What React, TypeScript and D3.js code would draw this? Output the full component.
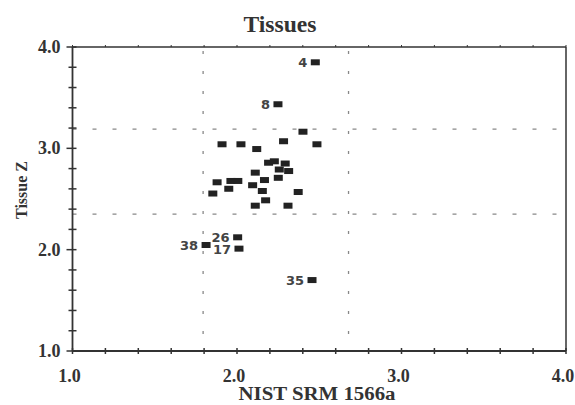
import React from "react";
import * as d3 from "d3";

const xValues = [2.476, 2.249, 2.004, 2.012, 1.812, 2.456,
  2.401, 1.909, 2.024, 2.120, 2.283, 2.486, 2.192, 2.227, 2.293, 2.257, 2.314, 2.111,
  1.879, 1.963, 2.005, 2.167, 2.251, 1.950, 2.095, 2.154, 1.853, 2.372, 2.174, 2.111, 2.310];
const yValues = [3.849, 3.435, 2.122, 2.010, 2.046, 1.700,
  3.164, 3.040, 3.040, 2.993, 3.070, 3.040, 2.858, 2.872, 2.850, 2.791, 2.776, 2.760,
  2.665, 2.678, 2.678, 2.687, 2.709, 2.601, 2.636, 2.579, 2.554, 2.569, 2.487, 2.434, 2.434];
const pointLabels = ["4", "8", "26", "17", "38", "35",
  "", "", "", "", "", "", "", "", "", "", "", "", "", "", "", "", "", "", "", "", "", "", "", "", ""];

const refX = [1.794, 2.678];
const refY = [3.19, 2.351];

const tickValues = d3.range(10, 41, 2).map((v) => v / 10);
const majorTicks = [1, 2, 3, 4];
const tickLabels = ["1.0", "2.0", "3.0", "4.0"];

const titleText = "Tissues";
const xTitle = "NIST SRM 1566a";
const yTitle = "Tissue Z";

export default function App() {
  const W = 575, H = 405;
  const left = 72.5, right = 566, top = 47, bottom = 351;
  const x = d3.scaleLinear().domain([1, 4]).range([left, right]);
  const y = d3.scaleLinear().domain([1, 4]).range([bottom, top]);
  const axisColor = "#333";
  const serif = "'Liberation Serif', 'Times New Roman', serif";
  const isMajor = (v: number) => majorTicks.some((m) => Math.abs(m - v) < 1e-6);

  return (
    <svg width={W} height={H} style={{ position: "absolute", left: 0, top: 0, background: "#fff" }}>
      <rect x={0} y={0} width={W} height={H} fill="#fff" />
      {/* reference dashed lines */}
      {refX.map((v, i) => (
        <line key={"rx" + i} x1={x(v)} x2={x(v)} y1={top + 4} y2={bottom} stroke="#888" strokeWidth={1.3} strokeDasharray="3,17" />
      ))}
      {refY.map((v, i) => (
        <line key={"ry" + i} x1={left} x2={right} y1={y(v)} y2={y(v)} stroke="#888" strokeWidth={1.3} strokeDasharray="4,16" />
      ))}
      {/* frame */}
      <line x1={left} x2={right} y1={top} y2={top} stroke={axisColor} strokeWidth={1.5} />
      <line x1={right} x2={right} y1={top} y2={bottom} stroke={axisColor} strokeWidth={1.5} />
      <line x1={left} x2={left} y1={top} y2={bottom} stroke={axisColor} strokeWidth={1.8} />
      <line x1={left} x2={right} y1={bottom} y2={bottom} stroke={axisColor} strokeWidth={1.8} />
      {/* bottom ticks */}
      {tickValues.map((v, i) => (
        <line key={"bt" + i} x1={x(v)} x2={x(v)} y1={bottom - 3} y2={bottom + 3} stroke={axisColor} strokeWidth={1.5} />
      ))}
      {/* top ticks */}
      {tickValues.map((v, i) => (
        <line key={"tt" + i} x1={x(v)} x2={x(v)} y1={top - 2} y2={top} stroke={axisColor} strokeWidth={1} />
      ))}
      {/* left ticks */}
      {tickValues.map((v, i) => (
        <line key={"lt" + i} x1={left - (isMajor(v) ? 6 : 4)} x2={left + 4} y1={y(v)} y2={y(v)} stroke={axisColor} strokeWidth={1.5} />
      ))}
      {/* tick labels */}
      {majorTicks.map((v, i) => (
        <text key={"yl" + i} x={left - 12} y={y(v) + 6} textAnchor="end" fontFamily={serif} fontWeight="bold" fontSize={18} fill="#333">{tickLabels[i]}</text>
      ))}
      {majorTicks.map((v, i) => (
        <text key={"xl" + i} x={x(v) - 3} y={382} textAnchor="middle" fontFamily={serif} fontWeight="bold" fontSize={18} fill="#333">{tickLabels[i]}</text>
      ))}
      {/* points */}
      {xValues.map((v, i) => (
        <rect key={"p" + i} x={x(v) - 4.5} y={y(yValues[i]) - 3} width={9} height={6} fill="#222" />
      ))}
      {pointLabels.map((lab, i) => lab ? (
        <text key={"pl" + i} x={x(xValues[i]) - 8} y={y(yValues[i]) + 5} textAnchor="end" fontFamily="'DejaVu Sans', sans-serif" fontWeight="bold" fontSize={13} fill="#444">{lab}</text>
      ) : null)}
      {/* titles */}
      <text x={280} y={31.5} textAnchor="middle" fontFamily={serif} fontWeight="bold" fontSize={23} fill="#333" textLength={73} lengthAdjust="spacingAndGlyphs">{titleText}</text>
      <text x={317} y={400} textAnchor="middle" fontFamily={serif} fontWeight="bold" fontSize={18} fill="#333" textLength={157} lengthAdjust="spacingAndGlyphs">{xTitle}</text>
      <text transform={`translate(26.5,190) rotate(-90)`} textAnchor="middle" fontFamily={serif} fontWeight="bold" fontSize={17} fill="#333" textLength={58} lengthAdjust="spacingAndGlyphs">{yTitle}</text>
    </svg>
  );
}
